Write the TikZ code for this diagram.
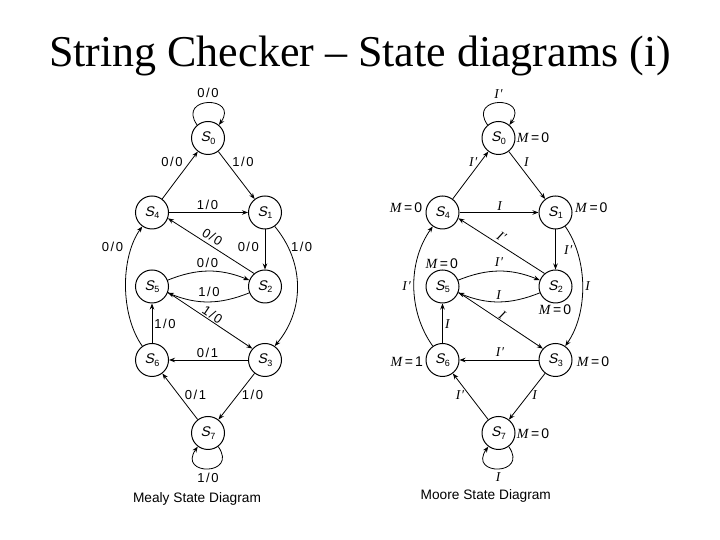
\documentclass[tikz,border=0pt]{standalone}
\usepackage{fontspec}
\setmainfont{Liberation Serif}
\newfontfamily\sansf{Liberation Sans}
\newfontfamily\sansit{Liberation Sans}[FakeSlant=0.22]
\usetikzlibrary{arrows.meta}
\newcommand{\stl}[1]{{\sansit\fontsize{14}{14}\selectfont S\kern0.6pt\raisebox{-2.5pt}{\sansf\fontsize{9}{9}\selectfont #1}}}
\newcommand{\io}[2]{#1\kern1.5pt/\kern1.5pt#2}
\newcommand{\Ii}{\textit{I}}
\newcommand{\Ip}{\textit{I}\kern0.3pt\textit{′}}
\newcommand{\Mq}[1]{\textit{M}\hspace{2pt}{\sansf =\hspace{2pt}#1}}
\tikzset{
  state/.style={circle, draw, line width=1pt, minimum size=33pt, inner sep=0pt},
  arr/.style={line width=0.8pt, -{Stealth[length=6pt,width=4.5pt]}},
  lab/.style={font=\sansf\fontsize{13}{13}\selectfont, inner sep=0pt},
  ilab/.style={font=\fontsize{13.5}{13.5}\selectfont, inner sep=0pt},
  mlab/.style={font=\fontsize{14}{14}\selectfont, inner sep=0pt},
  captxt/.style={font=\sansf\fontsize{13.7}{13.7}\selectfont, anchor=base},
}
\begin{document}
\begin{tikzpicture}[x=1pt,y=1pt]
\useasboundingbox (0,0) rectangle (720,540);
\node[font=\fontsize{44}{44}\selectfont, anchor=base] (title) at (360,473.3) {String Checker – State diagrams (i)};

% ---------------- Mealy ----------------
\node[state] (a0) at (208,402) {\stl0};
\node[state] (a4) at (152,327.5) {\stl4};
\node[state] (a1) at (265,327.5) {\stl1};
\node[state] (a5) at (152,253.5) {\stl5};
\node[state] (a2) at (265,253.5) {\stl2};
\node[state] (a6) at (152,180) {\stl6};
\node[state] (a3) at (265,180) {\stl3};
\node[state] (a7) at (208,107) {\stl7};

\draw[arr] (a0.130) .. controls +(125:36) and +(55:36) .. (a0.50) node[lab] (la1) at (208,446.7) {\io00};
\draw[arr] (a4) -- (a0) node[lab] (la2) at (172,378) {\io00};
\draw[arr] (a0) -- (a1) node[lab] (la3) at (243,378) {\io10};
\draw[arr] (a4) -- (a1) node[lab] (la4) at (207.5,334.7) {\io10};
\draw[arr] (a2.130) -- (a4.-20) node[lab, rotate=-33] (la5) at (212.5,303) {\io00};
\draw[arr] (a1) -- (a2) node[lab] (la6) at (248.3,292.8) {\io00};
\draw[arr] (a1.-55) .. controls +(30,-36) and +(30,36) .. (a3.55) node[lab] (la7) at (301.7,292.8) {\io10};
\draw[arr] (a6.125) .. controls +(-22,31) and +(-22,-31) .. (a4.-125) node[lab] (la8) at (112.5,292.8) {\io00};
\draw[arr] (a5) to[out=22,in=158] (a2) node[lab] (la9) at (207.5,276.7) {\io00};
\draw[arr] (a2) to[out=-158,in=-22] (a5) node[lab] (la10) at (209,248.3) {\io10};
\draw[arr] (a5.-20) -- (a3.138) node[lab, rotate=-34] (la11) at (212.5,225) {\io10};
\draw[arr] (a6) -- (a5) node[lab] (la12) at (165,215.8) {\io10};
\draw[arr] (a3) -- (a6) node[lab] (la13) at (207.5,186.7) {\io01};
\draw[arr] (a7) -- (a6) node[lab] (la14) at (195.5,144.7) {\io01};
\draw[arr] (a3) -- (a7) node[lab] (la15) at (252.5,145) {\io10};
\draw[arr] (a7.-53) .. controls +(-55:36) and +(-125:36) .. (a7.-127) node[lab] (la16) at (208,61.7) {\io10};
\node[captxt] (cap1) at (197,37.3) {Mealy State Diagram};

% ---------------- Moore ----------------
\node[state] (b0) at (498.5,402) {\stl0};
\node[state] (b4) at (442.5,327.5) {\stl4};
\node[state] (b1) at (555.5,327.5) {\stl1};
\node[state] (b5) at (442.5,253.5) {\stl5};
\node[state] (b2) at (555.5,253.5) {\stl2};
\node[state] (b6) at (442.5,180) {\stl6};
\node[state] (b3) at (555.5,180) {\stl3};
\node[state] (b7) at (498.5,107) {\stl7};

\draw[arr] (b0.130) .. controls +(125:36) and +(55:36) .. (b0.50) node[ilab] (lb1) at (498.5,446.2) {\Ip};
\draw[arr] (b4) -- (b0) node[ilab] (lb2) at (473.3,377.7) {\Ip};
\draw[arr] (b0) -- (b1) node[ilab] (lb3) at (526.7,378.3) {\Ii};
\draw[arr] (b4) -- (b1) node[ilab] (lb4) at (500,333.8) {\Ii};
\draw[arr] (b2.130) -- (b4.-20) node[ilab, rotate=-33] (lb5) at (501.7,303.3) {\Ip};
\draw[arr] (b1) -- (b2) node[ilab] (lb6) at (568.3,290) {\Ip};
\draw[arr] (b1.-55) .. controls +(23,-33) and +(23,33) .. (b3.55) node[ilab] (lb7) at (588,254) {\Ii};
\draw[arr] (b6.125) .. controls +(-25,35) and +(-25,-35) .. (b4.-125) node[ilab] (lb8) at (406.7,254) {\Ip};
\draw[arr] (b5) to[out=22,in=158] (b2) node[ilab] (lb9) at (499,277.5) {\Ip};
\draw[arr] (b2) to[out=-158,in=-22] (b5) node[ilab] (lb10) at (499,245) {\Ii};
\draw[arr] (b5.-20) -- (b3.138) node[ilab, rotate=-34] (lb11) at (502.5,224.5) {\Ii};
\draw[arr] (b6) -- (b5) node[ilab] (lb12) at (447.7,215.8) {\Ii};
\draw[arr] (b3) -- (b6) node[ilab] (lb13) at (500,188.3) {\Ip};
\draw[arr] (b7) -- (b6) node[ilab] (lb14) at (460,145) {\Ip};
\draw[arr] (b3) -- (b7) node[ilab] (lb15) at (535,145) {\Ii};
\draw[arr] (b7.-53) .. controls +(-55:36) and +(-125:36) .. (b7.-127) node[ilab] (lb16) at (498.5,63) {\Ii};

\node[mlab, anchor=west] (m0) at (516.7,402.8) {\Mq0};
\node[mlab, anchor=east] (m4) at (422.3,332) {\Mq0};
\node[mlab, anchor=west] (m1) at (575,332) {\Mq0};
\node[mlab] (m5) at (441.7,276.7) {\Mq0};
\node[mlab] (m2) at (555,230) {\Mq0};
\node[mlab, anchor=east] (m6) at (423,178.3) {\Mq1};
\node[mlab, anchor=west] (m3) at (576.7,178.3) {\Mq0};
\node[mlab, anchor=west] (m7) at (516.7,106.7) {\Mq0};
\node[captxt] (cap2) at (485.8,40) {Moore State Diagram};
\end{tikzpicture}
\end{document}
